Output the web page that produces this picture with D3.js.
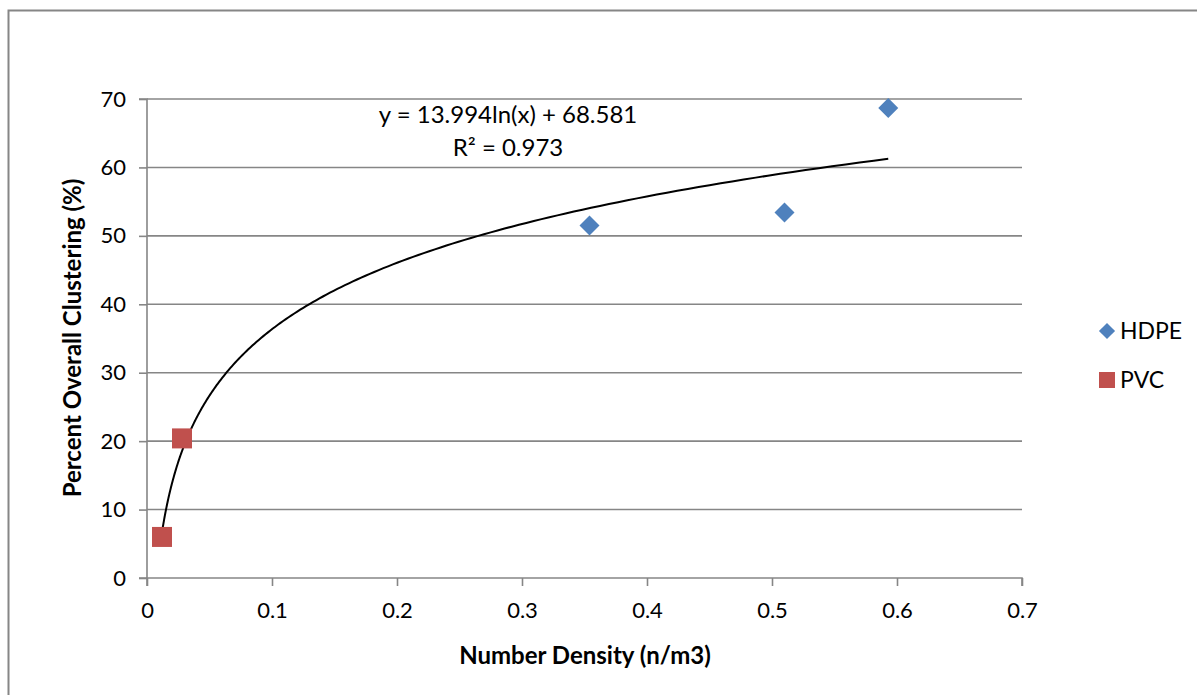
<!DOCTYPE html>
<html>
<head>
<meta charset="utf-8">
<script src="https://cdn.jsdelivr.net/npm/d3@7"></script>
<style>
  html, body { margin: 0; padding: 0; background: #fff; }
  svg { display: block; font-family: Lato, "Open Sans", "Liberation Sans", sans-serif; }
</style>
</head>
<body>
<svg id="chart" width="1197" height="695"></svg>
<script>
// Series data: number density (n/m3) vs. percent overall clustering (%)
const hdpeX = [0.354, 0.510, 0.593];
const hdpeY = [51.5, 53.4, 68.7];
const pvcX = [0.012, 0.028];
const pvcY = [6.0, 20.4];

// Logarithmic trendline fitted over all points
const fitA = 13.994;
const fitB = 68.581;
const fitR2 = 0.973;

const xTicks = [0, 0.1, 0.2, 0.3, 0.4, 0.5, 0.6, 0.7];
const yTicks = [0, 10, 20, 30, 40, 50, 60, 70];

const svg = d3.select("#chart");
const plotL = 147, plotR = 1022, plotT = 99, plotB = 578;
const grey = "#868686";

const x = d3.scaleLinear().domain([0, 0.7]).range([plotL, plotR]);
const y = d3.scaleLinear().domain([0, 70]).range([plotB, plotT]);

// Chart frame
svg.append("rect").attr("x", 8.5).attr("y", 10.5).attr("width", 1200).attr("height", 700)
  .attr("fill", "none").attr("stroke", grey).attr("stroke-width", 2);

// Horizontal gridlines
svg.append("g").selectAll("line").data(yTicks.filter(d => d > 0)).join("line")
  .attr("x1", plotL).attr("x2", plotR)
  .attr("y1", d => y(d)).attr("y2", d => y(d))
  .attr("stroke", grey).attr("stroke-width", 1.6);

// Axes
const yAxis = svg.append("g").attr("transform", `translate(${plotL},0)`)
  .call(d3.axisLeft(y).tickValues(yTicks).tickSize(8).tickPadding(13).tickFormat(d3.format("d")));
const xAxis = svg.append("g").attr("transform", `translate(0,${plotB})`)
  .call(d3.axisBottom(x).tickValues(xTicks).tickSize(8).tickPadding(16).tickFormat(d => d === 0 ? "0" : d3.format(".1f")(d)));

[yAxis, xAxis].forEach(g => {
  g.select(".domain").attr("stroke", grey).attr("stroke-width", 1.6);
  g.selectAll(".tick line").attr("stroke", grey).attr("stroke-width", 1.6);
  g.selectAll(".tick text").attr("fill", "#000").attr("font-size", 22)
    .attr("font-family", 'Lato, "Open Sans", sans-serif');
});
yAxis.select(".domain").attr("d", `M-8,${plotB}H0V${plotT}H-8`);
xAxis.select(".domain").attr("d", `M${plotL},8V0H${plotR}V8`);

// Trendline from the fitted equation, spanning the data range
const allX = hdpeX.concat(pvcX);
const xMin = d3.min(allX) * 0.96, xMax = d3.max(allX);
const trend = d3.range(0, 201).map(i => {
  const t = Math.exp(Math.log(xMin) + (Math.log(xMax) - Math.log(xMin)) * i / 200);
  return [t, fitA * Math.log(t) + fitB];
});
svg.append("path").datum(trend)
  .attr("fill", "none").attr("stroke", "#000").attr("stroke-width", 2)
  .attr("d", d3.line().x(d => x(d[0])).y(d => y(d[1])));

// HDPE markers (diamonds)
const diamond = d3.symbol().type(d3.symbolSquare).size(200);
svg.append("g").selectAll("path").data(hdpeX.map((v, i) => [v, hdpeY[i]])).join("path")
  .attr("d", diamond)
  .attr("transform", d => `translate(${x(d[0])},${y(d[1])}) rotate(45)`)
  .attr("fill", "#4F81BD");

// PVC markers (squares)
svg.append("g").selectAll("rect").data(pvcX.map((v, i) => [v, pvcY[i]])).join("rect")
  .attr("x", d => x(d[0]) - 10).attr("y", d => y(d[1]) - 10)
  .attr("width", 20).attr("height", 20)
  .attr("fill", "#C0504D");

// Trendline equation
const eq = svg.append("text").attr("text-anchor", "middle").attr("font-size", 24).attr("fill", "#000");
eq.append("tspan").attr("x", 508).attr("y", 123).text(`y = ${fitA}ln(x) + ${fitB}`);
eq.append("tspan").attr("x", 508).attr("y", 156).text(`R² = ${fitR2}`);

// Axis titles
svg.append("text").attr("x", 585).attr("y", 664).attr("text-anchor", "middle")
  .attr("font-size", 24).attr("font-weight", "bold").text("Number Density (n/m3)");
svg.append("text").attr("transform", "translate(81,338) rotate(-90)").attr("text-anchor", "middle")
  .attr("font-size", 24).attr("font-weight", "bold").text("Percent Overall Clustering (%)");

// Legend
const legend = svg.append("g");
legend.append("path").attr("d", d3.symbol().type(d3.symbolSquare).size(130))
  .attr("transform", "translate(1107,331) rotate(45)").attr("fill", "#4F81BD");
legend.append("rect").attr("x", 1099).attr("y", 372).attr("width", 16).attr("height", 16).attr("fill", "#C0504D");
legend.append("text").attr("x", 1120).attr("y", 339).attr("font-size", 23).text("HDPE");
legend.append("text").attr("x", 1120).attr("y", 388).attr("font-size", 23).text("PVC");
</script>
</body>
</html>
